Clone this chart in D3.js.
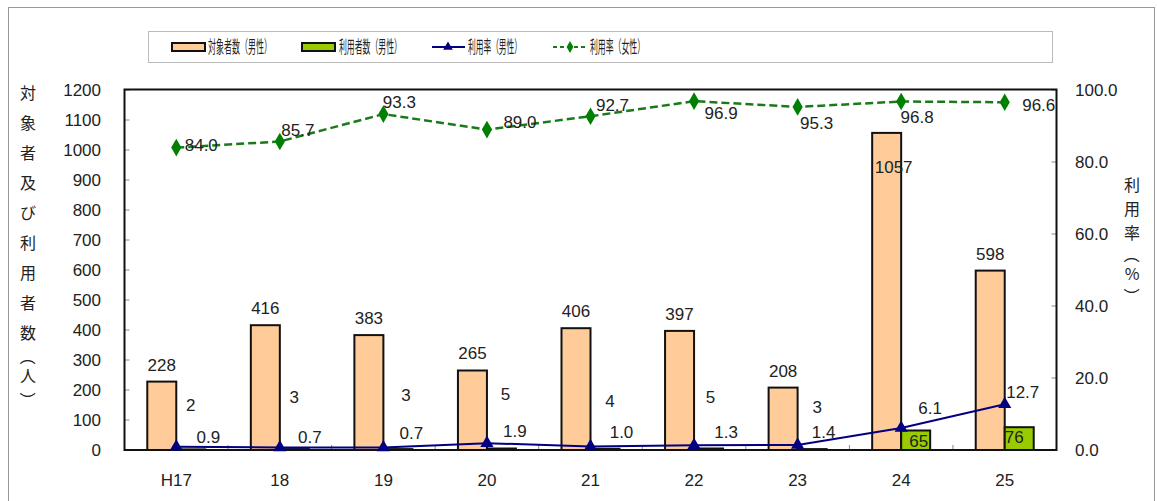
<!DOCTYPE html>
<html><head><meta charset="utf-8">
<script src="https://cdn.jsdelivr.net/npm/d3@7"></script>
<style>
html,body{margin:0;padding:0;background:#fff;}
svg{display:block;font-family:"Liberation Sans",Arial,sans-serif;}
.cjk{font-family:"Noto Sans CJK JP","Noto Sans CJK SC",sans-serif;}
</style></head>
<body>
<svg id="c" width="1157" height="501"></svg>
<script>
// ---- data ----
const categories = ["H17","18","19","20","21","22","23","24","25"];
const targetMale = [228,416,383,265,406,397,208,1057,598];
const usersMale = [2,3,3,5,4,5,3,65,76];
const rateMale = [0.9,0.7,0.7,1.9,1.0,1.3,1.4,6.1,12.7];
const rateFemale = [84.0,85.7,93.3,89.0,92.7,96.9,95.3,96.8,96.6];
const leftTicks = [0,100,200,300,400,500,600,700,800,900,1000,1100,1200];
const rightTicks = [0,20,40,60,80,100];
const seriesNames = ["対象者数（男性）","利用者数（男性）","利用率（男性）","利用率（女性）"];
const leftTitle = "対象者及び利用者数（人）";
const rightTitle = "利用率（%）";

// ---- label layout offsets (dx, dy) ----
const offTarget = [[0,-17],[0,-17],[0,-17],[0,-17],[0,-17],[0,-17],[0,-17],[7,34],[0,-17]];
const offUsers = [[0,-44],[0,-52],[8,-54],[4,-54],[5,-48],[2,-51],[5,-42],[3,11],[-5,10]];
const offRateM = [[32,-10],[30,-10],[28,-14],[28,-12],[31,-14],[32,-13],[26,-13],[29,-20],[18,-12]];
const offRateF = [[25,-3],[18,-11],[16,-12],[33,-8],[22,-11],[27,12],[19,16],[16,16],[34,3]];

const svg = d3.select("#c");
const L = 124.5, R = 1056.5, T = 89.5, B = 450;

// outer chart border
svg.append("rect").attr("x",8.5).attr("y",7.5).attr("width",1146).attr("height",520)
  .attr("fill","none").attr("stroke","#999").attr("stroke-width",1);

const x = d3.scaleBand().domain(categories).range([L,R]);
const yL = d3.scaleLinear().domain([0,1200]).range([B,90]);
const yR = d3.scaleLinear().domain([0,100]).range([B,90]);
const bw = 29;

// ticks inside plot
const g = svg.append("g");
g.selectAll("line.lt").data(leftTicks).join("line")
  .attr("x1",L).attr("x2",L+5).attr("y1",d=>yL(d)).attr("y2",d=>yL(d))
  .attr("stroke","#888").attr("stroke-width",1);
g.selectAll("line.rt").data(rightTicks).join("line")
  .attr("x1",R-5).attr("x2",R).attr("y1",d=>yR(d)).attr("y2",d=>yR(d))
  .attr("stroke","#888").attr("stroke-width",1);
g.selectAll("line.xt").data(categories.slice(1)).join("line")
  .attr("x1",d=>x(d)).attr("x2",d=>x(d)).attr("y1",B).attr("y2",B-5)
  .attr("stroke","#888").attr("stroke-width",1);

// axis labels
svg.append("g").selectAll("text").data(leftTicks).join("text")
  .attr("x",101).attr("y",d=>yL(d)).attr("dy","0.35em").attr("text-anchor","end")
  .attr("font-size",17).attr("fill","#222").text(d=>d);
svg.append("g").selectAll("text").data(rightTicks).join("text")
  .attr("x",1075).attr("y",d=>yR(d)).attr("dy","0.35em").attr("text-anchor","start")
  .attr("font-size",17).attr("fill","#222").text(d=>d.toFixed(1));
svg.append("g").selectAll("text").data(categories).join("text")
  .attr("x",d=>x(d)+x.bandwidth()/2).attr("y",480).attr("dy","0.35em").attr("text-anchor","middle")
  .attr("font-size",17).attr("fill","#222").text(d=>d);

// axis titles (vertical, one character per line; parentheses rotated)
function vTitle(str, cxp, y0, step, toP, fromP){
  const chars = Array.from(str);
  const isP = c => c==="（" || c==="）";
  let y = y0; const pos = [];
  chars.forEach((c,i)=>{
    if(i>0){ y += isP(c) ? toP : (isP(chars[i-1]) ? fromP : step); }
    pos.push({c, y, p:isP(c)});
  });
  svg.append("g").selectAll("text").data(pos).join("text")
    .attr("class","cjk").attr("x",0).attr("y",0).attr("dy","0.36em")
    .attr("transform",d=>`translate(${cxp},${d.y})` + (d.p ? " rotate(90)" : ""))
    .attr("text-anchor","middle").attr("font-size",16).attr("fill","#222").text(d=>d.c);
}
vTitle(leftTitle, 28, 93, 30, 24, 19);
vTitle(rightTitle, 1132, 185, 24, 22, 19);

// bars
svg.append("g").selectAll("rect").data(targetMale).join("rect")
  .attr("x",(d,i)=>x(categories[i])+x.bandwidth()/2-bw).attr("width",bw)
  .attr("y",d=>yL(d)).attr("height",d=>B-yL(d))
  .attr("fill","#FFCC99").attr("stroke","#111").attr("stroke-width",2);
svg.append("g").selectAll("rect").data(usersMale).join("rect")
  .attr("x",(d,i)=>x(categories[i])+x.bandwidth()/2).attr("width",bw)
  .attr("y",d=>yL(d)).attr("height",d=>B-yL(d))
  .attr("fill","#99CC00").attr("stroke","#111").attr("stroke-width",2);

// plot frame
svg.append("rect").attr("x",L).attr("y",T).attr("width",R-L).attr("height",B-T)
  .attr("fill","none").attr("stroke","#111").attr("stroke-width",2);

const cx = i => x(categories[i])+x.bandwidth()/2;

// male rate line
const lineM = d3.line().x((d,i)=>cx(i)).y(d=>yR(d));
svg.append("path").datum(rateMale).attr("d",lineM).attr("fill","none")
  .attr("stroke","#000080").attr("stroke-width",2);
const tri = d3.symbol().type(d3.symbolTriangle).size(75);
svg.append("g").selectAll("path").data(rateMale).join("path")
  .attr("d",tri).attr("transform",(d,i)=>`translate(${cx(i)},${yR(d)})`).attr("fill","#000080");

// female rate line
svg.append("path").datum(rateFemale).attr("d",lineM).attr("fill","none")
  .attr("stroke","#1a7a1a").attr("stroke-width",2.5).attr("stroke-dasharray","8,4");
const dia = d3.symbol().type(d3.symbolDiamond).size(90);
svg.append("g").selectAll("path").data(rateFemale).join("path")
  .attr("d",dia).attr("transform",(d,i)=>`translate(${cx(i)},${yR(d)})`).attr("fill","#008000");

// data labels
const lab = (data, fx, fy, off, fmt) => svg.append("g").selectAll("text").data(data).join("text")
  .attr("x",(d,i)=>fx(d,i)+off[i][0]).attr("y",(d,i)=>fy(d,i)+off[i][1]).attr("dy","0.35em")
  .attr("text-anchor","middle").attr("font-size",17).attr("fill","#222").text(fmt);
lab(targetMale,(d,i)=>cx(i)-bw/2,d=>yL(d),offTarget,d=>d);
lab(usersMale,(d,i)=>cx(i)+bw/2,d=>yL(d),offUsers,d=>d);
lab(rateMale,(d,i)=>cx(i),d=>yR(d),offRateM,d=>d.toFixed(1));
lab(rateFemale,(d,i)=>cx(i),d=>yR(d),offRateF,d=>d.toFixed(1));

// legend
svg.append("rect").attr("x",148.5).attr("y",31.5).attr("width",904).attr("height",31)
  .attr("fill","#fff").attr("stroke","#bbb").attr("stroke-width",1);
const ly = 47;
svg.append("rect").attr("x",172).attr("y",ly-4).attr("width",33).attr("height",8)
  .attr("fill","#FFCC99").attr("stroke","#111").attr("stroke-width",2);
svg.append("rect").attr("x",302).attr("y",ly-4).attr("width",33).attr("height",8)
  .attr("fill","#99CC00").attr("stroke","#111").attr("stroke-width",2);
svg.append("line").attr("x1",432).attr("x2",465).attr("y1",ly).attr("y2",ly)
  .attr("stroke","#000080").attr("stroke-width",2);
svg.append("path").attr("d",d3.symbol().type(d3.symbolTriangle).size(40))
  .attr("transform",`translate(448,${ly})`).attr("fill","#000080");
svg.append("line").attr("x1",553).attr("x2",587).attr("y1",ly).attr("y2",ly)
  .attr("stroke","#1a7a1a").attr("stroke-width",2).attr("stroke-dasharray","4,3");
svg.append("path").attr("d",d3.symbol().type(d3.symbolDiamond).size(40))
  .attr("transform",`translate(570,${ly})`).attr("fill","#008000");
const legX = [[208,64],[339,63],[468,54],[590,55]];
svg.append("g").selectAll("text").data(seriesNames).join("text")
  .attr("class","cjk").attr("x",(d,i)=>legX[i][0]).attr("y",ly).attr("dy","0.36em")
  .attr("font-size",17).attr("fill","#222")
  .attr("textLength",(d,i)=>legX[i][1]).attr("lengthAdjust","spacingAndGlyphs").text(d=>d);
</script>
</body></html>
